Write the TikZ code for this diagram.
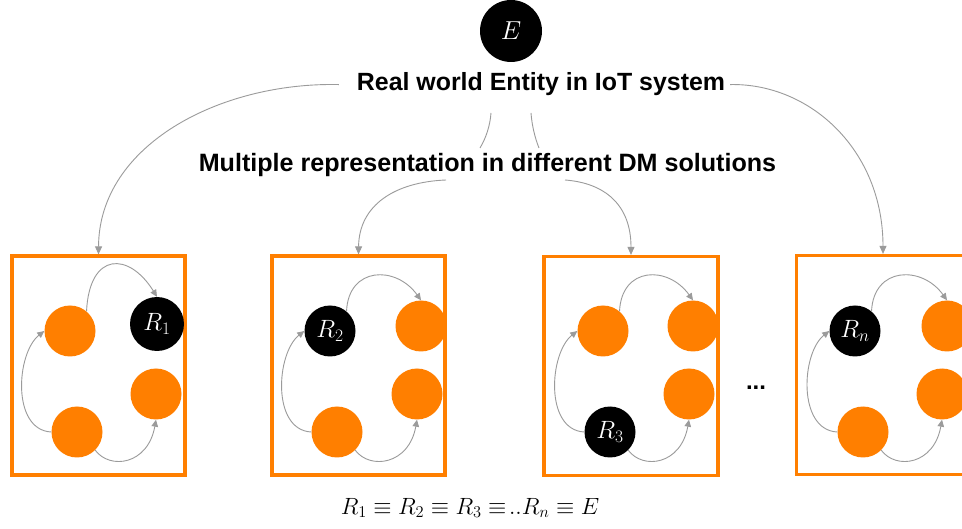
\RequirePackage{fix-cm}
\documentclass[tikz,border=0pt]{standalone}
\usepackage[no-math]{fontspec}
\newfontfamily\arialb{Liberation Sans}
\usetikzlibrary{arrows.meta,calc}
\definecolor{orng}{RGB}{255,127,0}
\definecolor{lgray}{RGB}{155,155,155}
\tikzset{
 conn/.style={draw=lgray, line width=0.9pt, -{Triangle[length=8pt,width=7pt]}},
 plainconn/.style={draw=lgray, line width=0.9pt},
 inconn/.style={draw=lgray, line width=0.9pt, -{Triangle[length=7pt,width=6.5pt]}},
 obox/.style={draw=orng, line width=3.2pt, rectangle, minimum width=173pt, minimum height=219pt, inner sep=0pt},
 ocirc/.style={circle, fill=orng, minimum size=51pt, inner sep=0pt},
 bcirc/.style={circle, fill=black, text=white, minimum size=51pt, inner sep=0pt, font=\fontsize{25}{29}\selectfont},
 ttl/.style={font=\arialb\bfseries\fontsize{24.9}{30}\selectfont, inner sep=0pt, anchor=base},
}
\begin{document}
\begin{tikzpicture}[x=1pt,y=-1pt]
\useasboundingbox (0,0) rectangle (962,529);
\clip (0,0) rectangle (962,529);
\fill[white] (0,0) rectangle (962,529);

% entity
\node[bcirc, minimum size=62pt, font=\fontsize{26}{30}\selectfont] (E) at (511,31) {$E$};
\node[ttl] (T) at (541,91) {Real world Entity in IoT system};
\node[ttl, font=\arialb\bfseries\fontsize{25.1}{30}\selectfont] (S) at (487.5,172) {Multiple representation in different DM solutions};

% boxes
\node[obox] (B1) at (98.5,365.5) {};
\node[obox] (B2) at (358.5,365.5) {};
\node[obox, minimum width=174pt] (B3) at (631,366) {};
\node[obox] (B4) at (883,365) {};

% box 1
\node[ocirc] (a1) at (70,331) {};
\node[bcirc, minimum size=54pt] (b1) at (157,324) {$R_1$};
\node[ocirc] (c1) at (156,394) {};
\node[ocirc] (d1) at (77,432) {};
% box 2
\node[bcirc] (a2) at (330,331) {$R_2$};
\node[ocirc] (b2) at (421,326) {};
\node[ocirc] (c2) at (417,394) {};
\node[ocirc] (d2) at (337,432) {};
% box 3
\node[ocirc] (a3) at (603,331) {};
\node[ocirc] (b3) at (693,326) {};
\node[ocirc] (c3) at (689,394) {};
\node[bcirc] (d3) at (610,432) {$R_3$};
% box 4
\node[bcirc] (a4) at (855,331) {$R_n$};
\node[ocirc] (b4) at (947,326) {};
\node[ocirc] (c4) at (942,394) {};
\node[ocirc] (d4) at (863,432) {};

% in-box connectors
\draw[inconn] (a1.50) .. controls +(3,-60) and +(-28,-45) .. (b1.north);
\foreach \i in {2,3,4}{
  \draw[inconn] (a\i.50) .. controls +(2,-45) and +(-25,-35) .. (b\i.north);
}
\foreach \i in {1,2,3,4}{
  \draw[inconn] (d\i.180) .. controls +(-40,-2) and +(-28,22) .. (a\i.west);
  \draw[inconn] (d\i.-45) .. controls +(15,20) and +(-8,45) .. (c\i.south);
}

% top connectors
\coordinate (m1a) at (491,113);
\coordinate (m1b) at (480,148);
\coordinate (m2a) at (531,113);
\coordinate (m2b) at (539,148);
\coordinate (s1) at (446,180);
\coordinate (s2) at (565,180);
\draw[conn] ([xshift=-18pt]T.west) .. controls (220,82) and (99,145) .. (B1.north);
\draw[conn] ([xshift=5pt]T.east) .. controls (810,83) and (883,150) .. (B4.north);
\draw[plainconn] (m1a) .. controls (490,126) and (486,138) .. (m1b);
\draw[plainconn] (m2a) .. controls (532,126) and (535,138) .. (m2b);
\draw[conn] (s1) .. controls (395,182) and (359,205) .. (B2.north);
\draw[conn] (s2) .. controls (605,183) and (631,205) .. (B3.north);

% ellipsis and equation
\node[font=\arialb\bfseries\fontsize{24}{28}\selectfont, anchor=base] (dots) at (756,390) {...};
\node[anchor=base, font=\fontsize{23.5}{27}\selectfont] (eq) at (470,514) {$R_1 \equiv R_2 \equiv R_3 \equiv\!..R_n \equiv E$};
\end{tikzpicture}
\end{document}
